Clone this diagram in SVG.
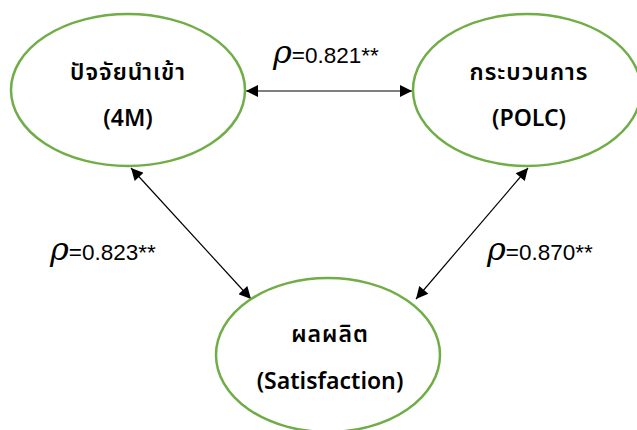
<svg xmlns="http://www.w3.org/2000/svg" width="637" height="430" viewBox="0 0 637 430">
<style>
.node{fill:#fff;stroke:#70AD47;stroke-width:2.5}
.t{font-family:"Noto Sans Thai","Leelawadee UI",Tahoma,"Noto Sans","DejaVu Sans",sans-serif;font-size:23px;font-weight:600;fill:#000;text-anchor:middle}
.th{letter-spacing:1px}
.c{stroke:#000;stroke-width:1.2;fill:none;marker-start:url(#a);marker-end:url(#a)}
.lab{font-family:"Liberation Sans",Arial,sans-serif;font-size:22.5px;fill:#000}
.rho{font-family:"DejaVu Serif",serif;font-style:italic;font-size:32px}
</style>
<defs>
<marker id="a" viewBox="0 0 10 10" refX="10" refY="5" markerWidth="14" markerHeight="12" markerUnits="userSpaceOnUse" orient="auto-start-reverse">
<path d="M0,0 L10,5 L0,10 z" fill="#000"/>
</marker>
</defs>
<g id="connectors">
<line class="c" x1="246" y1="91" x2="412" y2="91"/>
<line class="c" x1="131" y1="168" x2="251" y2="299"/>
<line class="c" x1="528" y1="168" x2="416" y2="299"/>
</g>
<g id="n1">
<ellipse class="node" cx="128" cy="90" rx="117" ry="76"/>
<text class="t th" x="128" y="80">ปัจจัยนำเข้า</text>
<text class="t" x="128" y="126">(4M)</text>
</g>
<g id="n2">
<ellipse class="node" cx="527" cy="90" rx="114" ry="76"/>
<text class="t th" x="529" y="80">กระบวนการ</text>
<text class="t" x="529" y="126">(POLC)</text>
</g>
<g id="n3">
<ellipse class="node" cx="328" cy="355" rx="112" ry="77"/>
<text class="t th" x="330" y="342">ผลผลิต</text>
<text class="t" x="330" y="389">(Satisfaction)</text>
</g>
<g id="labels">
<text class="lab" x="273" y="63"><tspan class="rho">ρ</tspan>=0.821**</text>
<text class="lab" x="50" y="260"><tspan class="rho">ρ</tspan>=0.823**</text>
<text class="lab" x="487" y="260"><tspan class="rho">ρ</tspan>=0.870**</text>
</g>
</svg>
